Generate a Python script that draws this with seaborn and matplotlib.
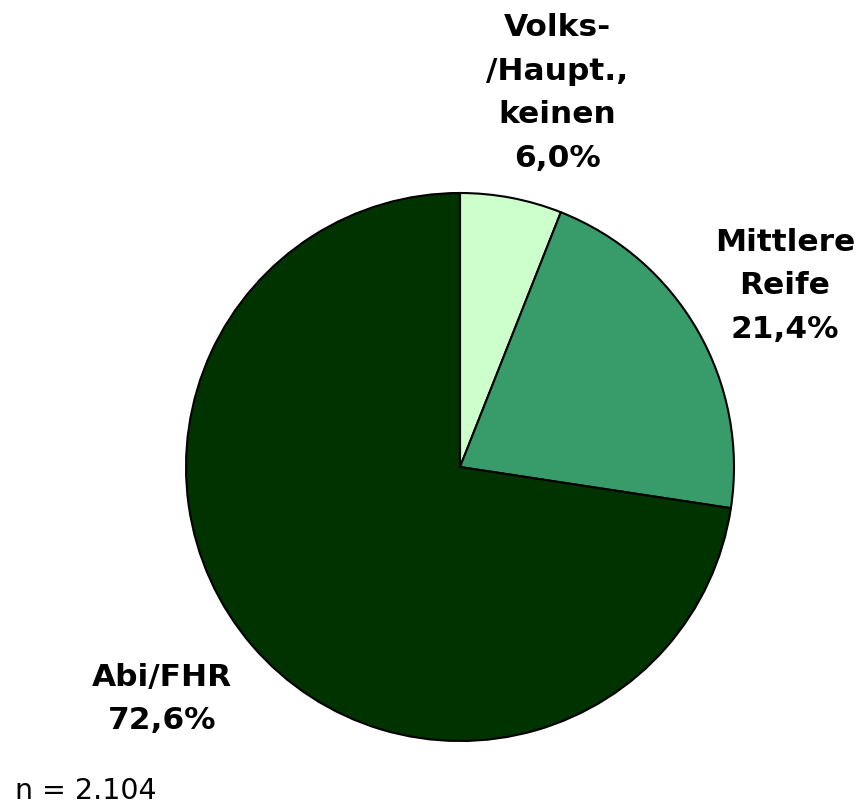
import seaborn as sns
import matplotlib.pyplot as plt

# Schulabschluss shares (%), clockwise from the top
labels = ["Volks-\n/Haupt.,\nkeinen", "Mittlere\nReife", "Abi/FHR"]
shares = [6.0, 21.4, 72.6]
pct_text = ["6,0%", "21,4%", "72,6%"]
colors = ["#CCFFCC", "#379C69", "#003300"]
n_text = "n = 2.104"

sns.set_theme(style="white")
plt.rcParams['font.family'] = ['DejaVu Sans']

fig = plt.figure(figsize=(8.58, 8.07), dpi=100)
ax = fig.add_axes([0, 0, 1, 1])

ax.pie(shares, colors=colors, startangle=90, counterclock=False,
       center=(460, 340), radius=274,
       wedgeprops=dict(edgecolor="black", linewidth=1.5))
ax.set_xlim(0, 858)
ax.set_ylim(0, 807)
ax.set_aspect("equal")
ax.axis("off")

# label positions in pixel space (x, y from top)
label_pos = [(557, 93), (785, 286), (162, 699)]
for lab, pct, (x, y) in zip(labels, pct_text, label_pos):
    ax.text(x, 807 - y, lab + "\n" + pct, ha="center", va="center",
            fontsize=22.5, fontweight="bold", linespacing=1.65, color="black")

ax.text(15, 807 - 791, n_text, ha="left", va="center", fontsize=20.5,
        color="black")

fig.savefig("out.png", dpi=100)
